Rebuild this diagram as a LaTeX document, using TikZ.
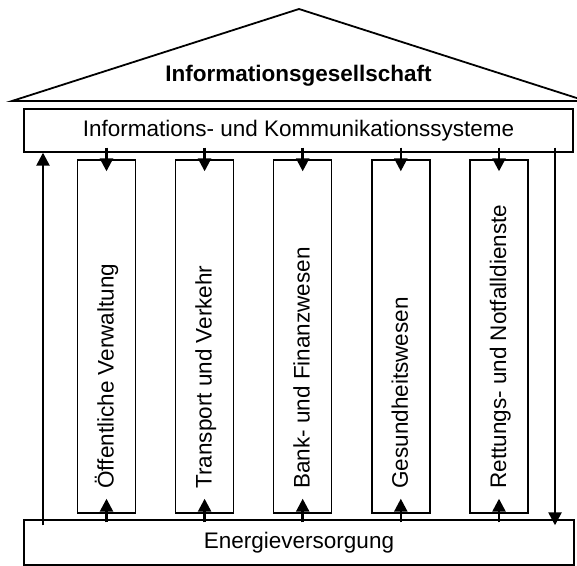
\documentclass[tikz,border=0pt]{standalone}
\usepackage{fontspec}
\setmainfont{Liberation Sans}
\usetikzlibrary{arrows.meta}
\begin{document}
\begin{tikzpicture}[x=0.5pt,y=-0.5pt,
  txt/.style={font=\fontsize{11.25pt}{13pt}\selectfont},
  box/.style={txt, draw, line width=0.7pt, inner sep=0pt},
  pillar/.style={box, minimum width=29pt, minimum height=176.5pt},
  pillarlabel/.style={txt, rotate=90, anchor=base west, inner sep=0pt},
  roof/.style={line width=0.9pt, line join=miter},
  headline/.style={txt, font=\fontsize{11.25pt}{13pt}\selectfont\bfseries, anchor=base, inner sep=0pt},
  arr/.style={line width=1.25pt, -{Triangle[width=6.5pt,length=6.5pt]}}]
  \clip (0,0) rectangle (577,566);
  % roof
  \draw[roof] (12,101) -- (299,9) -- (586,101) -- cycle;
  \node[headline] (title) at (298.5,82) {Informationsgesellschaft};
  % beam and foundation
  \node[box, minimum width=274.5pt, minimum height=21.5pt] (info) at (298.5,130.5)
    {Informations- und Kommunikationssysteme};
  \node[box, minimum width=275pt, minimum height=22.5pt] (energy) at (299,542.5)
    {Energieversorgung};
  % pillars
  \foreach \i/\x/\t in {1/106.5/{Öffentliche Verwaltung},
                        2/204.6/{Transport und Verkehr},
                        3/302.7/{Bank- und Finanzwesen},
                        4/400.8/{Gesundheitswesen},
                        5/499/{Rettungs- und Notfalldienste}} {
    \node[pillar] (p\i) at (\x,336.5) {};
    \node[pillarlabel] (t\i) at (\x+7,489) {\t};
    \draw[arr] ([yshift=2.5pt]info.south -| p\i) -- ([yshift=-6pt]p\i.north);
    \draw[arr] ([yshift=-1.5pt]energy.north -| p\i) -- ([yshift=7.5pt]p\i.south);
  }
  % side flows
  \coordinate (L) at (43,0);
  \coordinate (R) at (555,0);
  \draw[arr] ([yshift=-3pt]energy.north -| L) -- (info.south -| L);
  \draw[arr] ([yshift=2.5pt]info.south -| R) -- ([yshift=-3pt]energy.north -| R);
\end{tikzpicture}
\end{document}
